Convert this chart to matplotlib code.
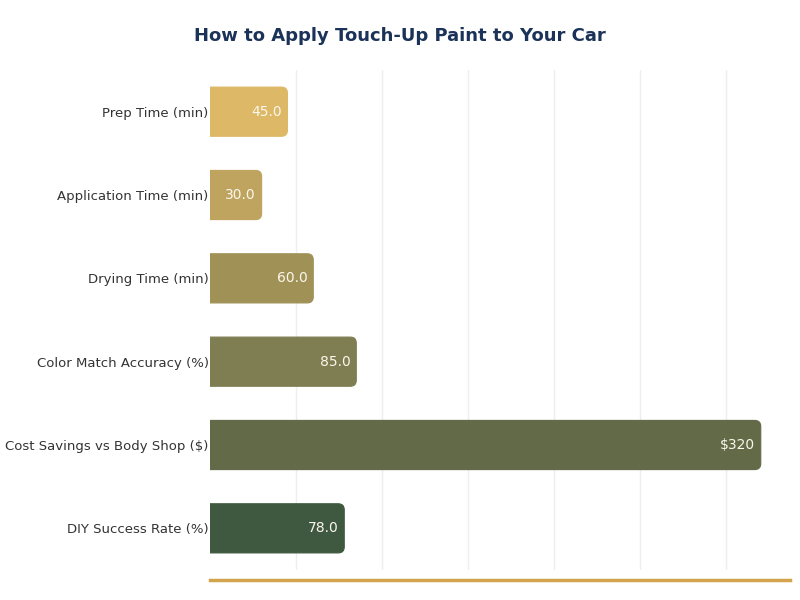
import matplotlib.pyplot as plt
from matplotlib.patches import FancyBboxPatch

# data
categories = ['Prep Time (min)', 'Application Time (min)', 'Drying Time (min)',
              'Color Match Accuracy (%)', 'Cost Savings vs Body Shop ($)',
              'DIY Success Rate (%)']
values = [45, 30, 60, 85, 320, 78]
value_labels = ['45.0', '30.0', '60.0', '85.0', '$320', '78.0']
colors = ['#DDB866', '#BFA45F', '#A09257', '#7F7D52', '#626A48', '#3F5940']

fig = plt.figure(figsize=(8, 6), dpi=100)
ax = fig.add_axes([0.2625, 0.05, 0.725, 0.8333])

ax.set_xlim(0, 337)
ax.set_ylim(5.5, -0.5)

# pixel scale so the corners stay round
ppx = ax.bbox.width / 337
ppy = ax.bbox.height / 6.0
radius_px = 6
bar_h = 0.59

for i, (v, c, lab) in enumerate(zip(values, colors, value_labels)):
    box = FancyBboxPatch((-20, i - bar_h / 2), v + 20, bar_h,
                         boxstyle=f"round,pad=0,rounding_size={radius_px / ppx}",
                         mutation_aspect=ppx / ppy,
                         facecolor=c, edgecolor=c, linewidth=0.8, zorder=3)
    ax.add_patch(box)
    ax.text(v - 6 / ppx, i, lab, ha='right', va='center',
            color='#FBF7EC', fontsize=10, zorder=4)

ax.set_yticks(range(len(categories)))
ax.set_yticklabels(categories, fontsize=9.5, color='#333333')
ax.tick_params(axis='y', length=0, pad=1)
ax.set_xticks(range(50, 301, 50))
ax.tick_params(axis='x', length=0, labelbottom=False)
ax.grid(axis='x', color='#EEEEEE', linewidth=1, zorder=0)
ax.set_axisbelow(True)

for side in ['top', 'right', 'left']:
    ax.spines[side].set_visible(False)
ax.spines['bottom'].set_color('#D4A44C')
ax.spines['bottom'].set_linewidth(2.5)
ax.spines['bottom'].set_position(('outward', 7))

fig.text(0.5, 0.94, 'How to Apply Touch-Up Paint to Your Car', ha='center',
         va='center', fontsize=13, fontweight='bold', color='#1B3358')

fig.savefig('out.png', dpi=100, facecolor='white')
